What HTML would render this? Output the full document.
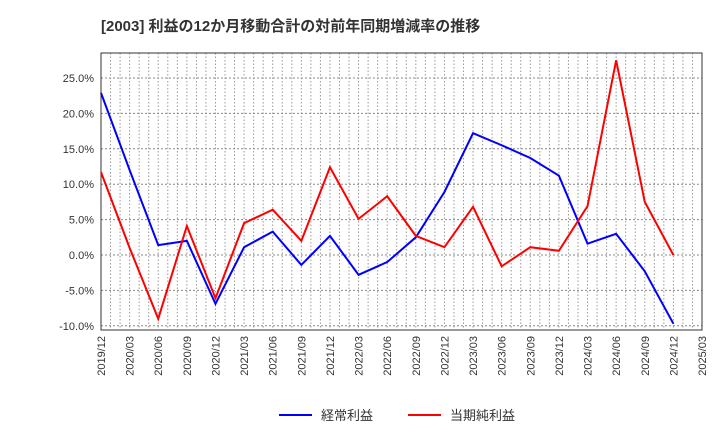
<!DOCTYPE html>
<html><head><meta charset="utf-8"><style>
body{margin:0;background:#fff;font-family:"Liberation Sans","Noto Sans CJK JP",sans-serif}
</style></head><body>
<svg id="c" width="720" height="440" xmlns="http://www.w3.org/2000/svg">
<text x="101" y="31" font-size="15" font-weight="bold" fill="#333" font-family="Liberation Sans,Noto Sans CJK JP,sans-serif">[2003]  利益の12か月移動合計の対前年同期増減率の推移</text>
</svg>
<script>
const categories=["2019/12","2020/03","2020/06","2020/09","2020/12","2021/03","2021/06","2021/09","2021/12","2022/03","2022/06","2022/09","2022/12","2023/03","2023/06","2023/09","2023/12","2024/03","2024/06","2024/09","2024/12","2025/03"];
const ordinaryProfit=[22.9,12.0,1.4,2.0,-6.9,1.1,3.3,-1.4,2.7,-2.8,-1.0,2.5,8.9,17.2,15.5,13.7,11.2,1.6,3.0,-2.3,-9.7];
const netProfit=[11.7,1.0,-9.0,4.1,-6.1,4.5,6.4,2.0,12.4,5.1,8.3,2.7,1.1,6.8,-1.6,1.1,0.6,6.9,27.5,7.5,0.0];
const yTicks=[-10,-5,0,5,10,15,20,25];
const NS="http://www.w3.org/2000/svg";
const svg=document.getElementById('c');
const L=101,R=702,T=53,B=330;
const xs=i=>L+(R-L)*i/(categories.length-1);
const ys=v=>255-v*7.08;
function mk(t,a){const e=document.createElementNS(NS,t);for(const k in a)e.setAttribute(k,a[k]);svg.appendChild(e);return e;}
const grid=document.createElementNS(NS,'g');


svg.appendChild(grid);
const nm=(categories.length-1)*3;
for(let m=1;m<nm;m++){const x=L+(R-L)*m/nm;const l=document.createElementNS(NS,'line');l.setAttribute('x1',x);l.setAttribute('x2',x);l.setAttribute('y1',T);l.setAttribute('y2',B);l.setAttribute('stroke','#999');l.setAttribute('stroke-dasharray','1.5,2');grid.appendChild(l);}
yTicks.forEach(v=>{const y=ys(v);const l=document.createElementNS(NS,'line');l.setAttribute('x1',L);l.setAttribute('x2',R);l.setAttribute('y1',y);l.setAttribute('y2',y);l.setAttribute('stroke','#888');l.setAttribute('stroke-dasharray','2,2');grid.appendChild(l);
const t=mk('text',{x:L-7,y:y+4,'font-size':11,'text-anchor':'end',fill:'#333'});t.textContent=v.toFixed(1)+'%';

});
const frame=mk('rect',{x:L,y:T,width:R-L,height:B-T,fill:'none',stroke:'#333'});


categories.forEach((c,i)=>{const x=xs(i);const t=mk('text',{x:0,y:0,'font-size':11,'text-anchor':'end',fill:'#333',transform:`translate(${x+4},${B+6}) rotate(-90)`});t.textContent=c;

});
function series(d,col,name){const p=mk('polyline',{points:d.map((v,i)=>xs(i)+','+ys(v)).join(' '),fill:'none',stroke:col,'stroke-width':2});

}
series(ordinaryProfit,'#0000ff','ordinary-profit-line');
series(netProfit,'#ff0000','net-profit-line');
function leg(x,col,label,name){const g=document.createElementNS(NS,'g');svg.appendChild(g);


const l=document.createElementNS(NS,'line');l.setAttribute('x1',x);l.setAttribute('x2',x+33);l.setAttribute('y1',415);l.setAttribute('y2',415);l.setAttribute('stroke',col);l.setAttribute('stroke-width',2);g.appendChild(l);
const t=document.createElementNS(NS,'text');t.setAttribute('x',x+42);t.setAttribute('y',420);t.setAttribute('font-size',13);t.setAttribute('fill','#333');t.textContent=label;g.appendChild(t);}
leg(279,'#0000ff','経常利益','legend-ordinary-profit');
leg(408,'#ff0000','当期純利益','legend-net-profit');
</script>
</body></html>
